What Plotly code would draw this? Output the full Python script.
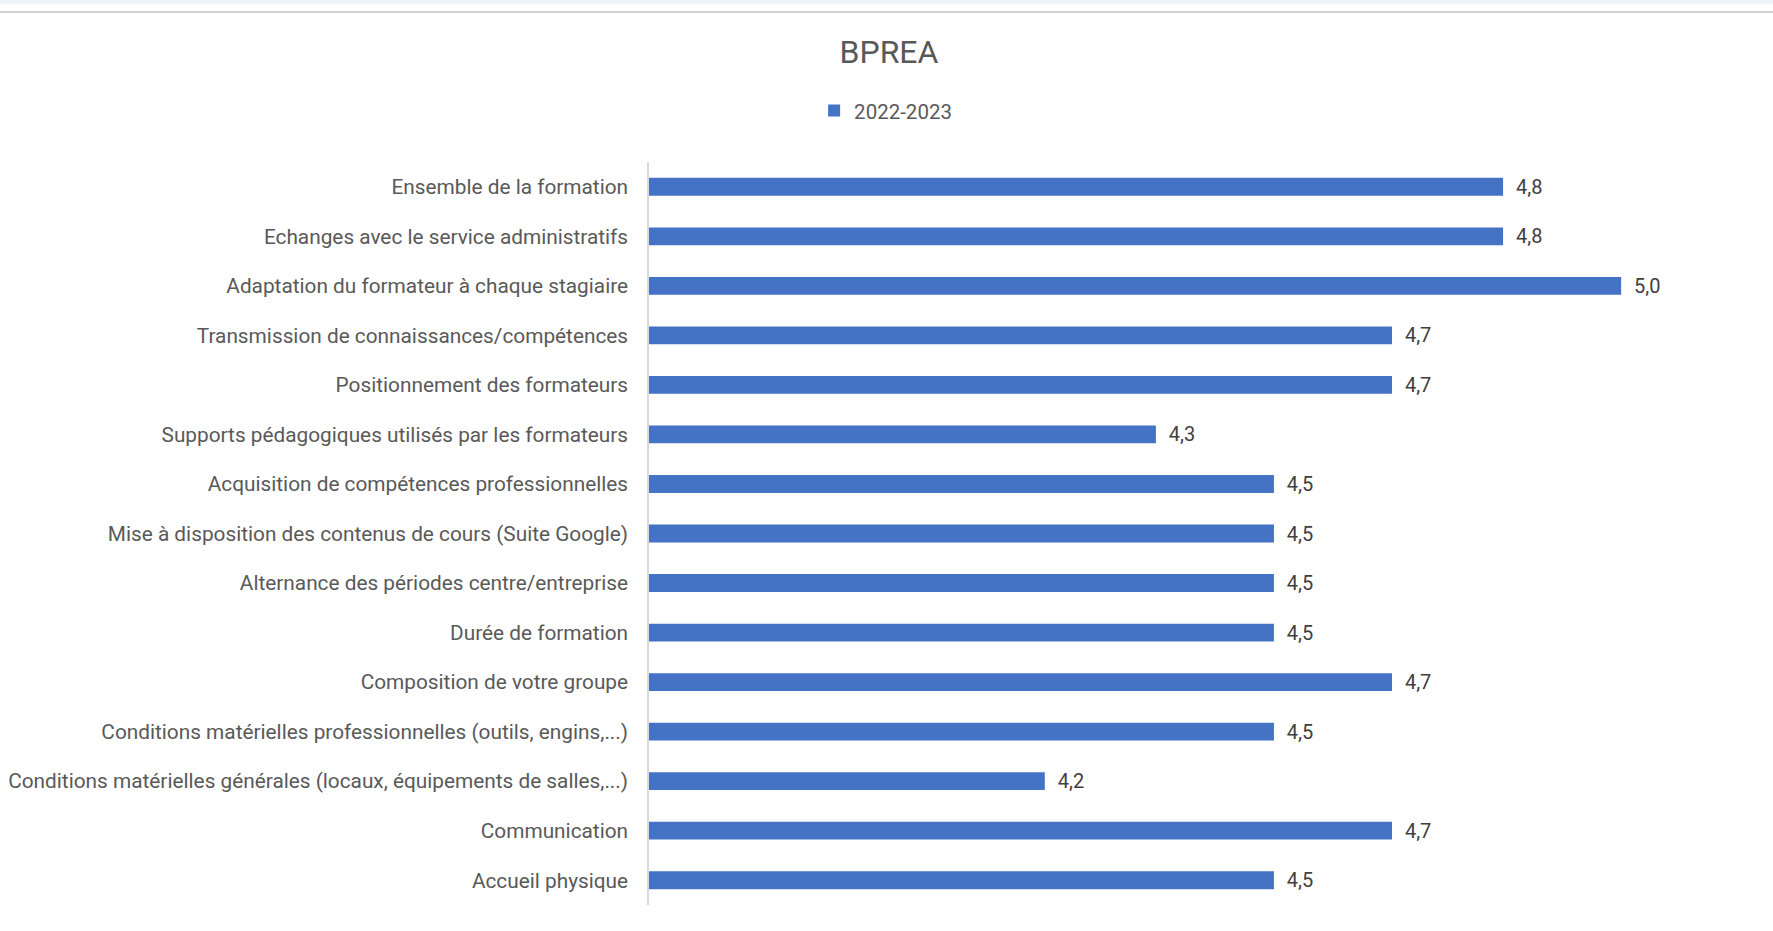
import plotly.graph_objects as go

categories = [
    "Ensemble de la formation",
    "Echanges avec le service administratifs",
    "Adaptation du formateur à chaque stagiaire",
    "Transmission de connaissances/compétences",
    "Positionnement des formateurs",
    "Supports pédagogiques utilisés par les formateurs",
    "Acquisition de compétences professionnelles",
    "Mise à disposition des contenus de cours (Suite Google)",
    "Alternance des périodes centre/entreprise",
    "Durée de formation",
    "Composition de votre groupe",
    "Conditions matérielles professionnelles (outils, engins,...)",
    "Conditions matérielles générales (locaux, équipements de salles,...)",
    "Communication",
    "Accueil physique",
]
values_2022_2023 = [4.83, 4.83, 5.0, 4.67, 4.67, 4.33, 4.5, 4.5, 4.5, 4.5, 4.67, 4.5, 4.17, 4.67, 4.5]
series_name = "2022-2023"
title_text = "BPREA"

labels = ["  " + f"{v:.1f}".replace(".", ",") for v in values_2022_2023]

FONT = "Roboto, sans-serif"

fig = go.Figure()
fig.add_trace(go.Bar(
    y=categories,
    x=values_2022_2023,
    orientation="h",
    name=series_name,
    marker=dict(color="#4472C4", line=dict(width=0)),
    text=labels,
    textposition="outside",
    constraintext="none",
    textfont=dict(family=FONT, size=20, color="#404040"),
    cliponaxis=False,
    showlegend=True,
))

fig.update_layout(
    width=1773,
    height=931,
    paper_bgcolor="white",
    plot_bgcolor="white",
    margin=dict(l=649, r=13, t=162, b=26, autoexpand=False),
    bargap=0.64,
    title=dict(text=title_text, x=0.5014, xref="container", xanchor="center",
               y=0.944, yanchor="middle",
               font=dict(family=FONT, size=32, color="#595959")),
    legend=dict(orientation="h", x=0.4995, xref="container", xanchor="center",
                y=0.881, yref="container", yanchor="middle",
                font=dict(family=FONT, size=20.5, color="#595959"),
                itemwidth=30),
    xaxis=dict(range=[3.6, 5.2], visible=False, fixedrange=True, automargin=False),
    yaxis=dict(autorange="reversed", showline=True, linecolor="#d9d9d9", linewidth=1.5,
               ticks="", ticklabelstandoff=15, automargin=False, fixedrange=True,
               tickfont=dict(family=FONT, size=20.8, color="#595959"),
               showgrid=False),
    shapes=[
        dict(type="rect", xref="paper", yref="paper", x0=-0.6, x1=1.02,
             y0=(905 - 0) / 743, y1=(905 - 4) / 743, fillcolor="#eef5fb", line=dict(width=0), layer="below"),
        dict(type="line", xref="paper", yref="paper", x0=-0.6, x1=1.02,
             y0=(905 - 12) / 743, y1=(905 - 12) / 743, line=dict(color="#d0d0d0", width=2)),
    ],
)

fig.write_html(
    "out.html",
    config={"displayModeBar": False},
    post_script="document.body.style.margin='0px';document.documentElement.style.overflow='hidden';",
)
